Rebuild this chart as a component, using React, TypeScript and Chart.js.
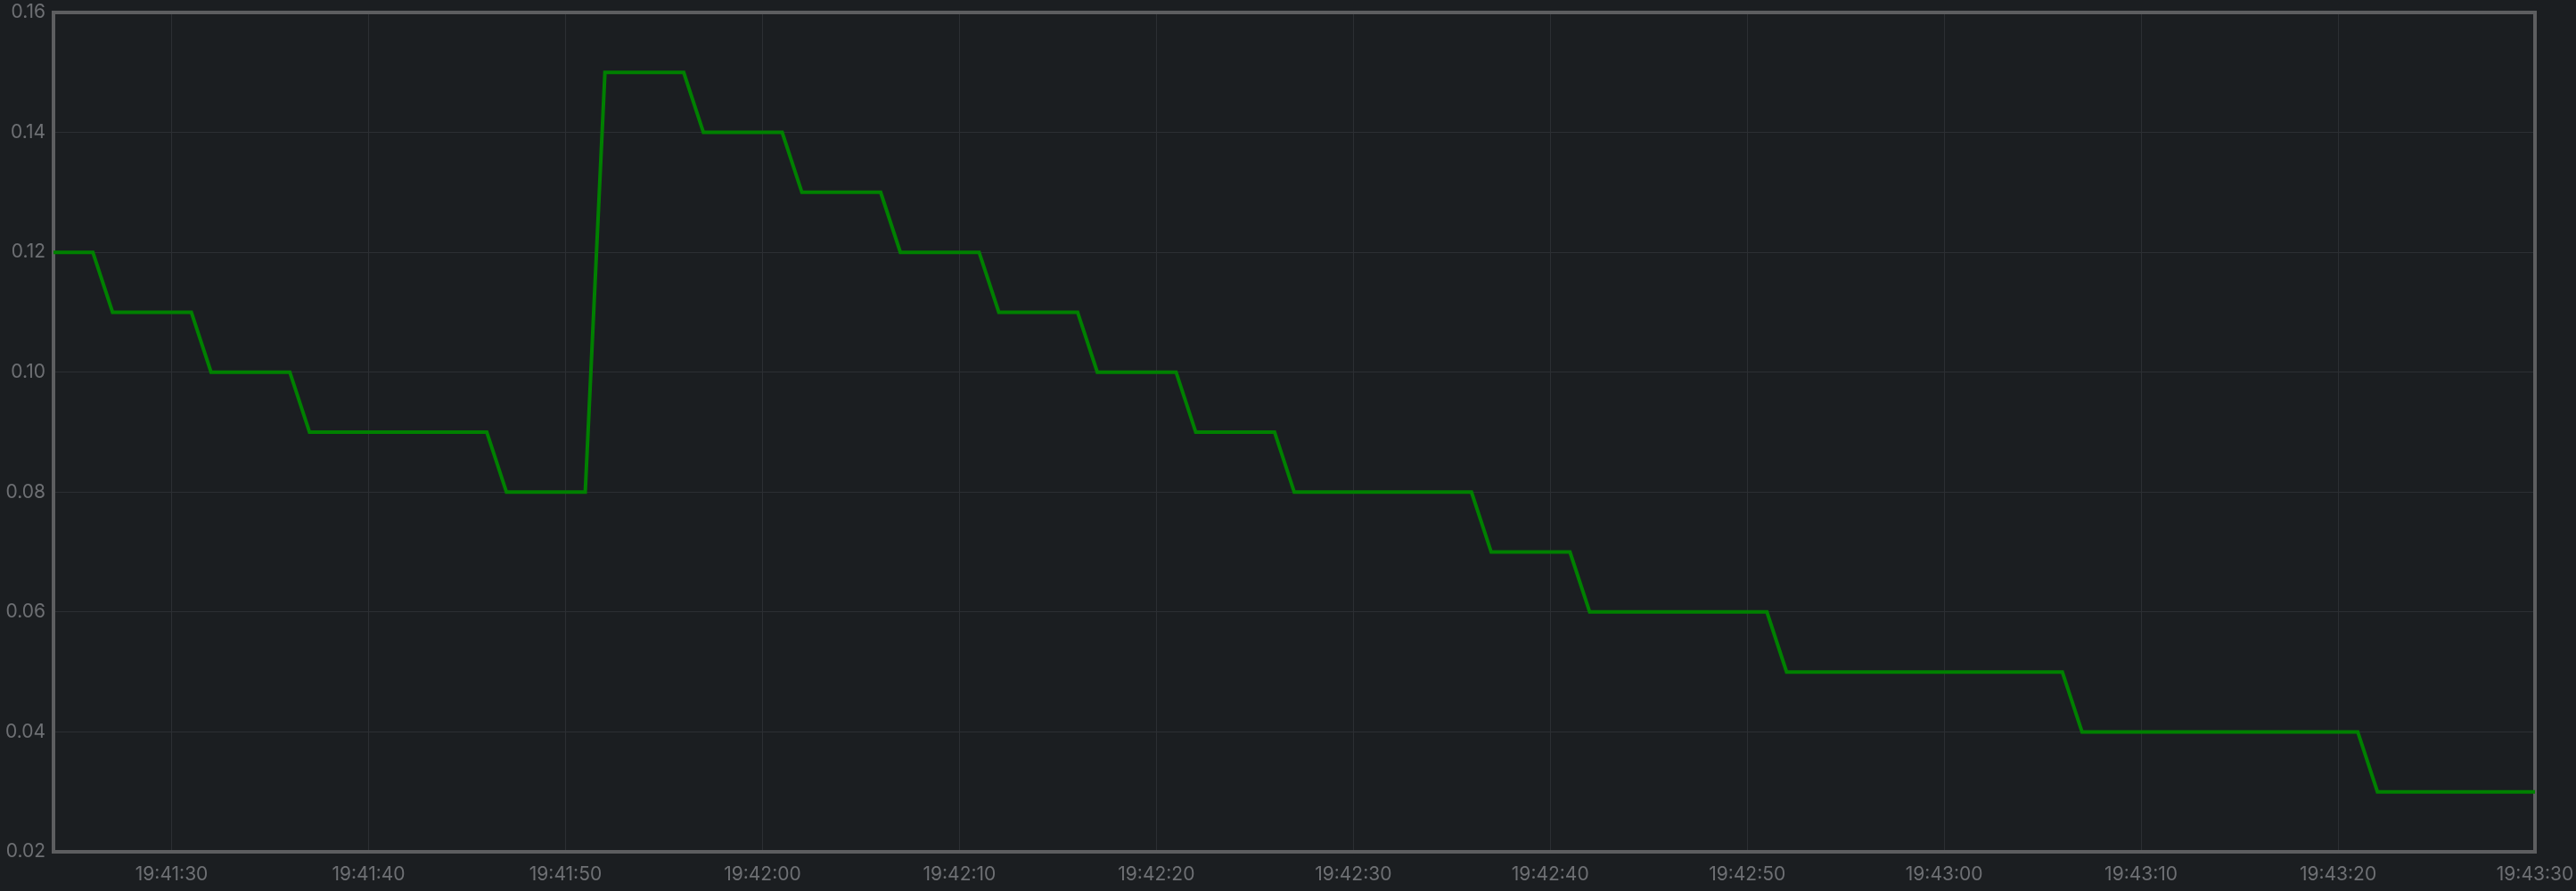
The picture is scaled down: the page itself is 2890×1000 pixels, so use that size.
import React, { useEffect, useRef } from "react";
import { Chart, registerables } from "chart.js";

Chart.register(...registerables);

// Sample times (HH:MM:SS) and values of the series
const times = [
  "19:41:24", "19:41:26", "19:41:27", "19:41:31", "19:41:32", "19:41:36",
  "19:41:37", "19:41:46", "19:41:47", "19:41:51", "19:41:52", "19:41:56",
  "19:41:57", "19:42:01", "19:42:02", "19:42:06", "19:42:07", "19:42:11",
  "19:42:12", "19:42:16", "19:42:17", "19:42:21", "19:42:22", "19:42:26",
  "19:42:27", "19:42:36", "19:42:37", "19:42:41", "19:42:42", "19:42:51",
  "19:42:52", "19:43:06", "19:43:07", "19:43:21", "19:43:22", "19:43:30",
];
const values = [
  0.12, 0.12, 0.11, 0.11, 0.10, 0.10,
  0.09, 0.09, 0.08, 0.08, 0.15, 0.15,
  0.14, 0.14, 0.13, 0.13, 0.12, 0.12,
  0.11, 0.11, 0.10, 0.10, 0.09, 0.09,
  0.08, 0.08, 0.07, 0.07, 0.06, 0.06,
  0.05, 0.05, 0.04, 0.04, 0.03, 0.03,
];
const xTickLabels = [
  "19:41:30", "19:41:40", "19:41:50", "19:42:00", "19:42:10", "19:42:20",
  "19:42:30", "19:42:40", "19:42:50", "19:43:00", "19:43:10", "19:43:20",
  "19:43:30",
];
const yTicks = [0.02, 0.04, 0.06, 0.08, 0.10, 0.12, 0.14, 0.16];

const toSec = (s: string) => {
  const [h, m, sec] = s.split(":").map(Number);
  return h * 3600 + m * 60 + sec;
};
const fmt = (v: number) => {
  const h = Math.floor(v / 3600);
  const m = Math.floor((v % 3600) / 60);
  const s = Math.round(v % 60);
  const p = (n: number) => String(n).padStart(2, "0");
  return `${p(h)}:${p(m)}:${p(s)}`;
};

const BG = "#1b1e21";
const TEXT = "#6e7074";
const GRID = "#2c2f33";
const FRAME = "#5d5e60";
const LINE = "#008000";

const framePlugin = {
  id: "frame",
  beforeDraw(chart: any) {
    const { ctx, width, height } = chart;
    ctx.save();
    ctx.fillStyle = BG;
    ctx.fillRect(0, 0, width, height);
    ctx.restore();
  },
  beforeDatasetsDraw(chart: any) {
    const { ctx, chartArea } = chart;
    ctx.save();
    ctx.strokeStyle = FRAME;
    ctx.lineWidth = 4;
    ctx.strokeRect(
      chartArea.left,
      chartArea.top,
      chartArea.right - chartArea.left,
      chartArea.bottom - chartArea.top
    );
    ctx.restore();
  },
};

const zeroPad = (scale: any) => {
  scale.paddingTop = 0;
  scale.paddingBottom = 0;
  scale.paddingLeft = 0;
  scale.paddingRight = 0;
};

export default function App() {
  const ref = useRef<HTMLCanvasElement | null>(null);

  useEffect(() => {
    document.body.style.margin = "0";
    document.body.style.background = BG;
    if (!ref.current) return;
    const font = { family: "Inter, 'Noto Sans', sans-serif", size: 21 };
    const chart = new Chart(ref.current, {
      type: "line",
      data: {
        datasets: [
          {
            data: times.map((t, i) => ({ x: toSec(t), y: values[i] })),
            borderColor: LINE,
            borderWidth: 4,
            pointRadius: 0,
            tension: 0,
            fill: false,
          },
        ],
      },
      options: {
        animation: false,
        responsive: false,
        maintainAspectRatio: false,
        layout: { padding: { top: 14, right: 46, left: 0, bottom: 0 } },
        plugins: {
          legend: { display: false },
          tooltip: { enabled: false },
        },
        scales: {
          x: {
            type: "linear",
            min: toSec(times[0]),
            max: toSec(times[times.length - 1]),
            afterBuildTicks: (scale: any) => {
              scale.ticks = xTickLabels.map((l) => ({ value: toSec(l) }));
            },
            afterFit: (scale: any) => {
              scale.height = 44;
              zeroPad(scale);
            },
            grid: { color: GRID, lineWidth: 1, drawTicks: false },
            border: { display: false },
            ticks: {
              color: TEXT,
              font,
              padding: 13,
              maxRotation: 0,
              autoSkip: false,
              callback: (v: any) => fmt(Number(v)),
            },
          },
          y: {
            type: "linear",
            min: 0.02,
            max: 0.16,
            afterBuildTicks: (scale: any) => {
              scale.ticks = yTicks.map((v) => ({ value: v }));
            },
            afterFit: (scale: any) => {
              scale.width = 60;
              zeroPad(scale);
            },
            grid: { color: GRID, lineWidth: 1, drawTicks: false },
            border: { display: false },
            ticks: {
              color: TEXT,
              font,
              padding: 9,
              autoSkip: false,
              callback: (v: any) => Number(v).toFixed(2),
            },
          },
        },
      },
      plugins: [framePlugin],
    } as any);
    return () => chart.destroy();
  }, []);

  return (
    <div style={{ position: "fixed", left: 0, top: 0, width: 2890, height: 1000, background: BG }}>
      <canvas ref={ref} width={2890} height={1000} style={{ display: "block" }} />
    </div>
  );
}
